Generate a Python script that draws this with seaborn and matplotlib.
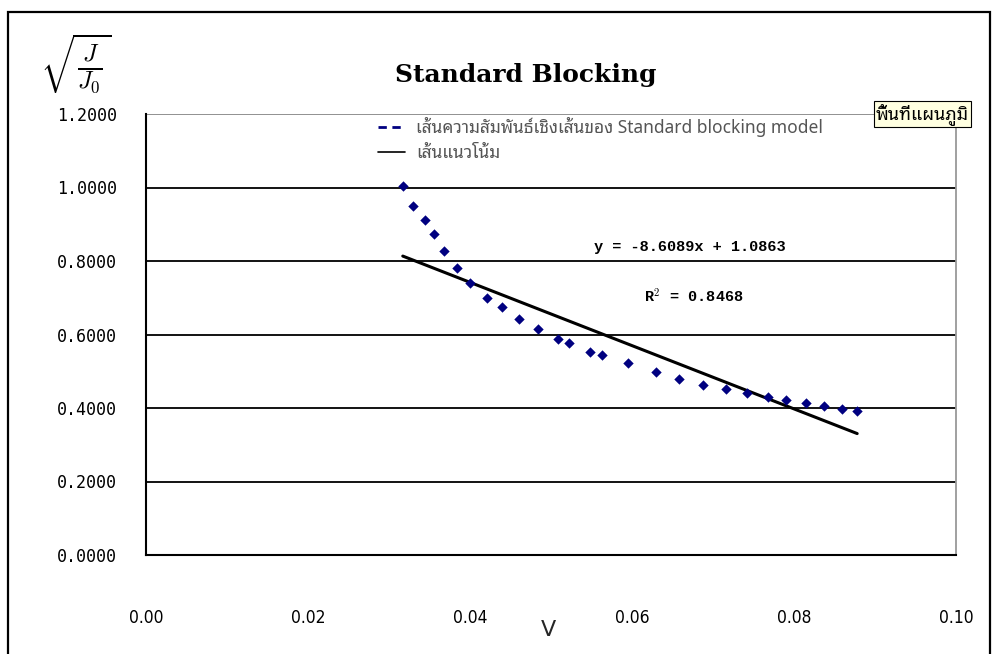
import numpy as np
import pandas as pd
import matplotlib
matplotlib.use("Agg")
import matplotlib.pyplot as plt
import seaborn as sns
from matplotlib import font_manager as fm
from matplotlib.ft2font import FT2Font
from matplotlib.lines import Line2D
from matplotlib.patches import Rectangle

# ---------------- data ----------------
v_values = [0.0317, 0.0330, 0.0344, 0.0356, 0.0368, 0.0384, 0.0400, 0.0421, 0.0440,
            0.0460, 0.0484, 0.0509, 0.0522, 0.0548, 0.0563, 0.0595, 0.0630, 0.0658,
            0.0688, 0.0716, 0.0742, 0.0768, 0.0790, 0.0815, 0.0837, 0.0859, 0.0878]
sqrt_j_values = [1.004, 0.950, 0.912, 0.873, 0.827, 0.781, 0.740, 0.699, 0.675,
                 0.642, 0.615, 0.588, 0.577, 0.552, 0.544, 0.522, 0.498, 0.479,
                 0.463, 0.452, 0.441, 0.430, 0.422, 0.414, 0.405, 0.397, 0.392]
trend_slope = -8.6089
trend_intercept = 1.0863
r_squared = 0.8468

x_ticks = [0.00, 0.02, 0.04, 0.06, 0.08, 0.10]
y_ticks = [0.0, 0.2, 0.4, 0.6, 0.8, 1.0, 1.2]

title_text = "Standard Blocking"
x_label = "V"
legend_labels = ["เส้นความสัมพันธ์เชิงเส้นของ Standard blocking model", "เส้นแนวโน้ม"]
tooltip_text = "พื้นที่แผนภูมิ"
eq_text = "y = -8.6089x + 1.0863"
r2_text = "R$^2$ = 0.8468"

# ---------------- fonts ----------------
candidates = []
for f in fm.findSystemFonts():
    try:
        ft = FT2Font(f)
        if 0x0E40 in ft.get_charmap():
            name = fm.FontProperties(fname=f).get_name()
            candidates.append((f, name))
    except Exception:
        pass

prefs = ["Noto Sans Thai", "Loma", "Garuda", "Umpush", "Waree", "Sarabun",
         "Tahoma", "Kinnari", "Norasi", "Laksaman", "Sawasdee", "Purisa"]


def rank(item):
    f, name = item
    low = (name + " " + f).lower()
    for i, p in enumerate(prefs):
        if p.lower() in low:
            score = i
            break
    else:
        score = 50
    if "mono" in low or "typo" in low or "typewriter" in low:
        score += 100
    if "bold" in f.lower() or "oblique" in f.lower() or "italic" in f.lower():
        score += 10
    return score


thai_font = None
if candidates:
    candidates.sort(key=rank)
    f, thai_font = candidates[0]
    fm.fontManager.addfont(f)

sns.set_theme(style="white")
thai_family = ([thai_font] if thai_font else []) + ["DejaVu Sans"]
plt.rcParams["font.family"] = ["DejaVu Sans"]
plt.rcParams["mathtext.fontset"] = "cm"
plt.rcParams["text.color"] = "black"
plt.rcParams["xtick.color"] = "black"
plt.rcParams["ytick.color"] = "black"

df = pd.DataFrame({"V": v_values, "J": sqrt_j_values})
trend_x = [min(v_values), max(v_values)]
trend_df = pd.DataFrame({"V": trend_x,
                         "J": [trend_slope * x + trend_intercept for x in trend_x]})

fig = plt.figure(figsize=(9.94, 6.54), dpi=100)
fig.patch.set_facecolor("white")
W, H = 994, 654
ax = fig.add_axes([146 / W, 1 - 555 / H, (956 - 146) / W, (555 - 114) / H])

# outer chart border
fig.add_artist(Rectangle((8 / W, -0.05), (990 - 8) / W, 1 - 12 / H + 0.05,
                         transform=fig.transFigure, fill=False,
                         edgecolor="black", linewidth=1.6))

# gridlines
for yv in y_ticks:
    ax.axhline(yv, color="black" if yv < 1.2 else "#888888", linewidth=1.3, zorder=1)

sns.lineplot(data=trend_df, x="V", y="J", ax=ax, color="black", linewidth=2.2, zorder=3)
sns.scatterplot(data=df, x="V", y="J", ax=ax, marker="D", s=28, color="#000080",
                edgecolor="#000080", linewidth=0, zorder=4)

ax.set_xlim(0, 0.10)
ax.set_ylim(0, 1.2)
ax.set_xticks(x_ticks)
ax.set_yticks(y_ticks)
ax.set_xticklabels([f"{t:.2f}" for t in x_ticks], fontfamily="DejaVu Sans",
                   fontstretch="condensed", fontsize=12.5)
ax.set_yticklabels([f"{t:.4f}" for t in y_ticks], fontfamily="DejaVu Sans Mono", fontsize=12)
ax.tick_params(axis="x", direction="out", length=9, width=1.3, color="black", pad=30)
ax.tick_params(axis="y", direction="out", length=9, width=1.3, color="black", pad=12)

for s in ["left", "bottom"]:
    ax.spines[s].set_color("black")
    ax.spines[s].set_linewidth(1.5)
ax.spines["right"].set_color("#999999")
ax.spines["right"].set_linewidth(1.3)
ax.spines["top"].set_visible(False)

ax.set_xlabel(x_label, fontsize=16, fontfamily="DejaVu Sans")
ax.xaxis.set_label_coords((548 - 146) / 810, -(630 - 555) / 441)
ax.xaxis.label.set_va("center")
ax.set_ylabel("")

ax.text((526 - 146) / 810, (555 - 75) / 441, title_text, transform=ax.transAxes,
        ha="center", va="center", fontsize=18, fontweight="bold", fontfamily="DejaVu Serif")

fig.text(76 / W, 1 - 64 / H, r"$\sqrt{\frac{J}{J_0}}$", fontsize=25,
         ha="center", va="center")

ax.text((690 - 146) / 810, (555 - 247) / 441, eq_text, transform=ax.transAxes,
        ha="center", va="center", fontsize=11, fontfamily="Liberation Mono",
        fontweight="bold")
ax.text((694 - 146) / 810, (555 - 297) / 441, r2_text, transform=ax.transAxes,
        ha="center", va="center", fontsize=11, fontfamily="Liberation Mono",
        fontweight="bold")

handles = [Line2D([], [], color="#000080", linestyle=(0, (3, 2)), linewidth=2),
           Line2D([], [], color="black", linewidth=1.2)]
leg = ax.legend(handles, legend_labels, loc="upper left",
                bbox_to_anchor=((362 - 146) / 810, (555 - 101) / 441),
                frameon=False, handlelength=1.6, handletextpad=0.6, labelspacing=0.45,
                prop={"family": thai_family, "size": 12.5})
for t in leg.get_texts():
    t.set_color("#555555")

fig.text(876 / W, 1 - 114 / H, tooltip_text, fontsize=13, family=thai_family,
         ha="left", va="center", color="black",
         bbox=dict(boxstyle="square,pad=0.12", facecolor="#FFFFE1",
                   edgecolor="black", linewidth=0.8), zorder=10)

fig.savefig("out.png", dpi=100, facecolor="white")
